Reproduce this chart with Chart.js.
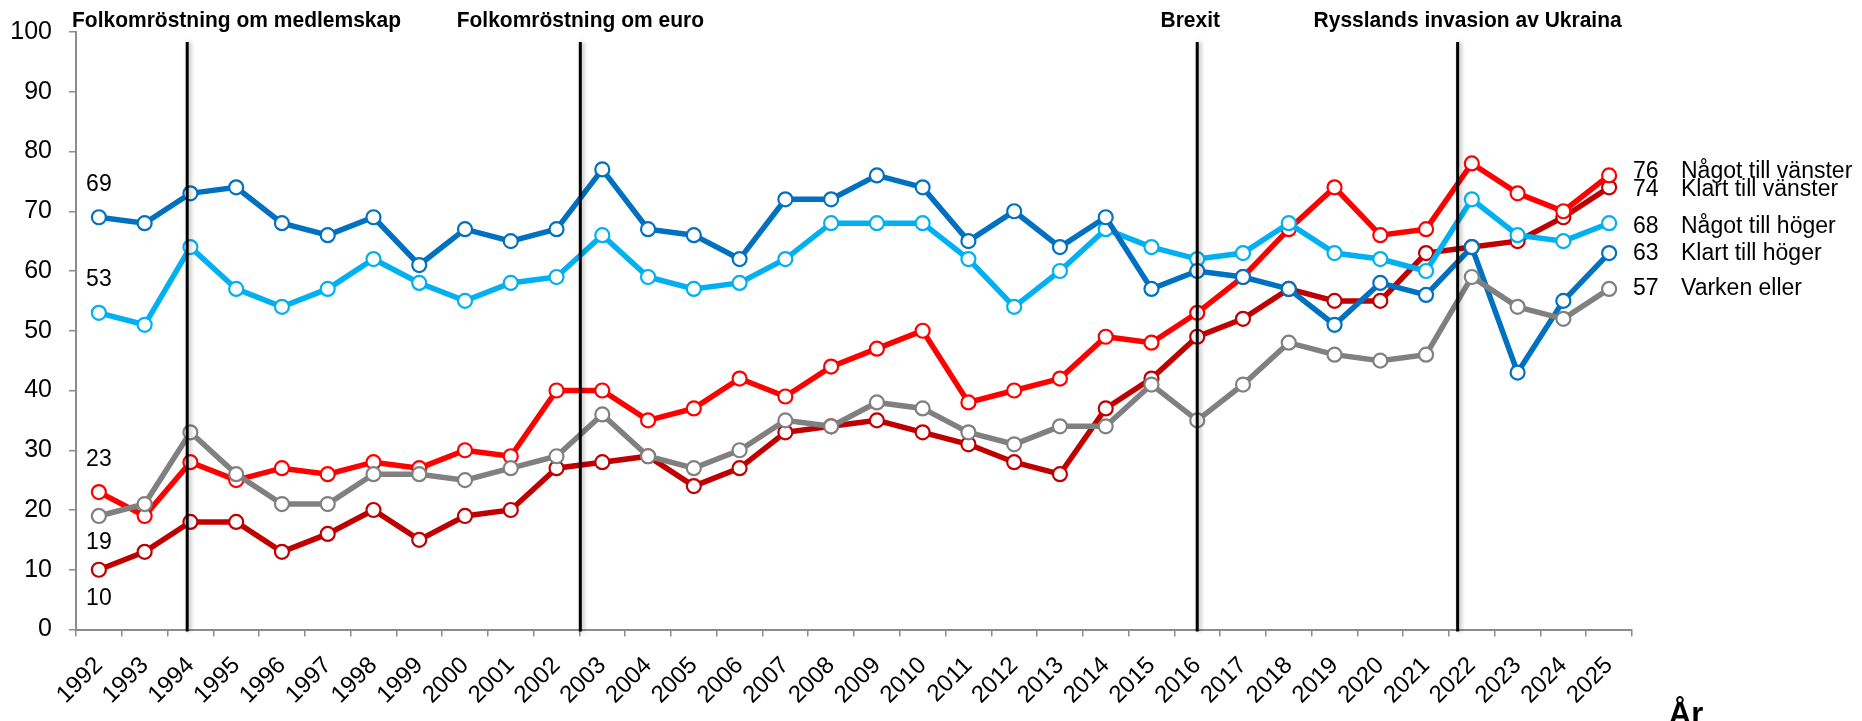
<!DOCTYPE html>
<html>
<head>
<meta charset="utf-8">
<script src="https://cdn.jsdelivr.net/npm/chart.js@4.4.1/dist/chart.umd.min.js"></script>
<style>
  html, body { margin: 0; padding: 0; background: #ffffff; }
  #wrap { width: 1862px; height: 721px; position: relative; }
</style>
</head>
<body>
<div id="wrap"><canvas id="chart" width="1862" height="721"></canvas></div>
<script>
// Survey years
const years = ['1992','1993','1994','1995','1996','1997','1998','1999','2000','2001',
               '2002','2003','2004','2005','2006','2007','2008','2009','2010','2011',
               '2012','2013','2014','2015','2016','2017','2018','2019','2020','2021',
               '2022','2023','2024','2025'];

// Share (%) per group
const nagotVanster = [23,19,28,25,27,26,28,27,30,29, 40,40,35,37,42,39,44,47,50,38, 40,42,49,48,53,59,67,74,66,67, 78,73,70,76];
const klartVanster = [10,13,18,18,13,16,20,15,19,20, 27,28,29,24,27,33,34,35,33,31, 28,26,37,42,49,52,57,55,55,63, 64,65,69,74];
const nagotHoger   = [53,51,64,57,54,57,62,58,55,58, 59,66,59,57,58,62,68,68,68,62, 54,60,67,64,62,63,68,63,62,60, 72,66,65,68];
const klartHoger   = [69,68,73,74,68,66,69,61,67,65, 67,77,67,66,62,72,72,76,74,65, 70,64,69,57,60,59,57,51,58,56, 64,43,55,63];
const varkenEller  = [19,21,33,26,21,21,26,26,25,27, 29,36,29,27,30,35,34,38,37,33, 31,34,34,41,35,41,48,46,45,46, 59,54,52,57];

// Y axis ticks
const yTicks = [0,10,20,30,40,50,60,70,80,90,100];

// Events marked with vertical lines (position given as fractional year)
const eventNames = ['Folkomröstning om medlemskap', 'Folkomröstning om euro', 'Brexit', 'Rysslands invasion av Ukraina'];
const eventYears = [1993.93, 2002.52, 2016.0, 2021.69];

const FONT = "'Liberation Sans', Arial, Helvetica, sans-serif";

// Series (first entry is drawn on top)
const series = [
  { name: 'Varken eller',       data: varkenEller,  color: '#808080', startDy:  27, endDy:  0 },
  { name: 'Klart till höger',   data: klartHoger,   color: '#0070C0', startDy: -33, endDy:  1 },
  { name: 'Något till höger',   data: nagotHoger,   color: '#00B0F0', startDy: -33, endDy:  3 },
  { name: 'Något till vänster', data: nagotVanster, color: '#FF0000', startDy: -32, endDy: -4 },
  { name: 'Klart till vänster', data: klartVanster, color: '#C00000', startDy:  29, endDy:  2 }
];

const datasets = series.map(s => ({
  label: s.name,
  data: s.data,
  borderColor: s.color,
  backgroundColor: s.color,
  borderWidth: 5.5,
  tension: 0,
  pointRadius: 7,
  pointHoverRadius: 7,
  pointBorderWidth: 2.2,
  pointBorderColor: s.color,
  pointBackgroundColor: '#ffffff',
  clip: false
}));

// Maps a fractional year to a pixel on the category axis
function yearToPixel(xScale, yr) {
  const i = Math.floor(yr - 1992);
  const f = (yr - 1992) - i;
  const p0 = xScale.getPixelForValue(i);
  const p1 = xScale.getPixelForValue(i + 1);
  return p0 + (p1 - p0) * f;
}

const overlay = {
  id: 'overlay',
  afterDatasetsDraw(chart) {
    const ctx = chart.ctx;
    const xs = chart.scales.x, ys = chart.scales.y;
    const area = chart.chartArea;

    // Event lines
    ctx.save();
    ctx.strokeStyle = '#000000';
    ctx.lineWidth = 3;
    ctx.shadowColor = 'rgba(0,0,0,0.30)';
    ctx.shadowBlur = 4;
    ctx.shadowOffsetX = 2;
    eventYears.forEach(yr => {
      const x = yearToPixel(xs, yr);
      ctx.beginPath();
      ctx.moveTo(x, 42);
      ctx.lineTo(x, area.bottom + 2);
      ctx.stroke();
    });
    ctx.restore();

    // Event captions
    ctx.save();
    ctx.font = 'bold 21px ' + FONT;
    ctx.fillStyle = '#000000';
    ctx.textBaseline = 'alphabetic';
    ctx.textAlign = 'left';
    const captionShift = [0, 0, -7, 10];
    eventNames.forEach((t, k) => {
      const x = yearToPixel(xs, eventYears[k]);
      const w = ctx.measureText(t).width;
      let left = x - w / 2 + captionShift[k];
      if (left < 72) left = 72;
      ctx.save();
      ctx.translate(left, 27);
      ctx.scale(1, 1.08);
      ctx.fillText(t, 0, 0);
      ctx.restore();
    });
    ctx.restore();

    // Start and end value labels
    ctx.save();
    ctx.font = '23px ' + FONT;
    ctx.fillStyle = '#000000';
    ctx.textBaseline = 'middle';
    const last = years.length - 1;
    series.forEach(s => {
      const x0 = xs.getPixelForValue(0);
      const y0 = ys.getPixelForValue(s.data[0]);
      ctx.textAlign = 'center';
      ctx.fillText(String(s.data[0]), x0, y0 + s.startDy);

      const yl = ys.getPixelForValue(s.data[last]) + s.endDy;
      ctx.textAlign = 'left';
      ctx.fillText(String(s.data[last]), area.right + 1, yl);
      ctx.fillText(s.name, area.right + 49, yl);
    });
    ctx.restore();

    // Axis title
    ctx.save();
    ctx.font = 'bold 31px ' + FONT;
    ctx.fillStyle = '#000000';
    ctx.textAlign = 'center';
    ctx.textBaseline = 'alphabetic';
    ctx.fillText('År', 1686, 724);
    ctx.restore();
  }
};

new Chart(document.getElementById('chart'), {
  type: 'line',
  data: { labels: years, datasets },
  options: {
    responsive: false,
    devicePixelRatio: 1,
    animation: false,
    events: [],
    layout: { padding: { top: 26, right: 230, bottom: 0, left: 0 } },
    plugins: { legend: { display: false }, tooltip: { enabled: false } },
    scales: {
      x: {
        type: 'category',
        offset: true,
        afterFit(scale) { scale.height = 91.5; },
        grid: { offset: true, drawOnChartArea: false, drawTicks: true, tickLength: 7, color: '#8c8c8c', lineWidth: 1.5 },
        border: { color: '#8c8c8c', width: 2 },
        ticks: {
          autoSkip: false, maxRotation: 45, minRotation: 45, padding: 15,
          color: '#000000', font: { family: FONT, size: 24 }
        }
      },
      y: {
        min: 0, max: 100,
        afterFit(scale) { scale.width = 76; },
        afterBuildTicks(scale) { scale.ticks = yTicks.map(v => ({ value: v })); },
        grid: { drawOnChartArea: false, drawTicks: true, tickLength: 7, color: '#8c8c8c', lineWidth: 1.5 },
        border: { color: '#8c8c8c', width: 2 },
        ticks: { padding: 17, color: '#000000', font: { family: FONT, size: 25 } }
      }
    }
  },
  plugins: [overlay]
});
</script>
</body>
</html>
